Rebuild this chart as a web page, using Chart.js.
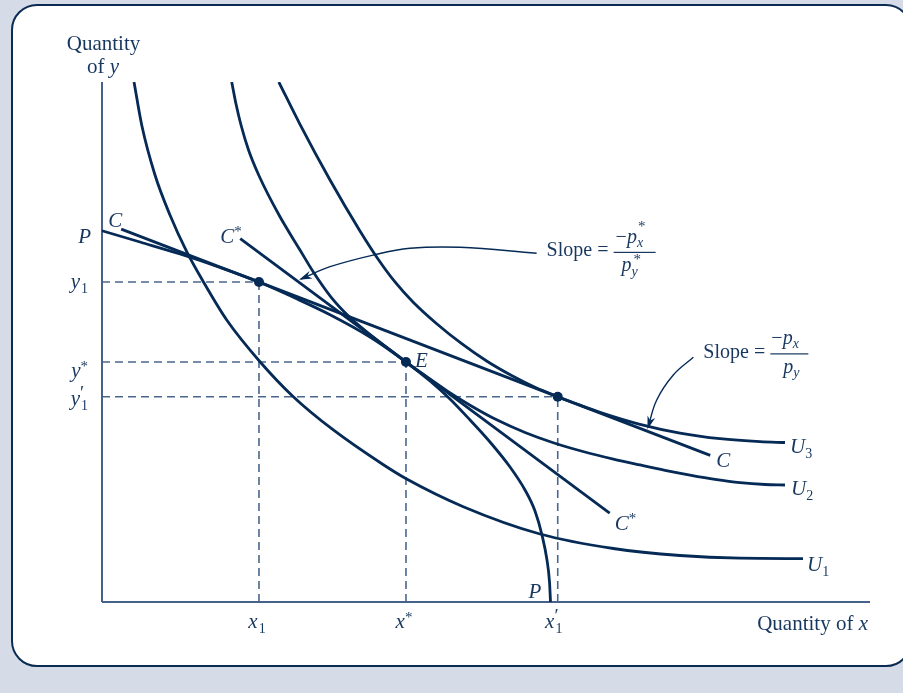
<!DOCTYPE html>
<html><head><meta charset="utf-8">
<script src="https://cdn.jsdelivr.net/npm/chart.js@4/dist/chart.umd.min.js"></script>
<style>
html,body{margin:0;padding:0;background:#d5dce8;width:903px;height:693px;overflow:hidden;}
#card{position:absolute;left:11px;top:4px;width:897px;height:659px;background:#fff;border:2px solid #0b2b52;border-radius:26px;}
#c{position:absolute;left:0;top:0;}
</style></head>
<body><div id="card"></div><canvas id="c" width="903" height="693"></canvas>
<script>
// ---- data (axis units: 0..100 on both axes) ----
const X_TICK_VALUES = [20.44, 39.58, 59.34];   // x1, x*, x1'
const Y_TICK_VALUES = [61.54, 46.15, 39.48];   // y1, y*, y1'
const P_INTERCEPT_Y = 71.4;

const DOT_X = [20.44, 39.58, 59.34];
const DOT_Y = [61.54, 46.15, 39.48];

const U1_X = [4.17, 5.17, 6.9, 8.85, 11.03, 13.19, 16.24, 20.57, 24.91, 30.12, 36.59, 39.67, 47.04, 57.03, 66.58, 75.26, 83.07, 91.28];
const U1_Y = [100, 91.73, 82.12, 74.42, 67.37, 61.6, 54.23, 46.21, 39.48, 33.08, 26.44, 23.65, 18.33, 13.08, 10.29, 8.94, 8.42, 8.35];

const U2_X = [16.89, 17.45, 18.1, 19.08, 20.4, 23.05, 25.78, 27.6, 29.82, 32.29, 34.51, 36.98, 39.58, 42.19, 44.88, 47.92, 51.39, 55.08, 58.76, 62.63, 66.58, 70.05, 73.31, 76.56, 79.82, 83.07, 86.33, 88.93];
const U2_Y = [100, 95.77, 91.73, 86.92, 82.12, 74.42, 67.69, 63.27, 58.65, 54.71, 51.92, 49.08, 46.15, 43.42, 40.65, 37.85, 35.04, 32.6, 30.63, 28.94, 27.48, 26.35, 25.33, 24.42, 23.6, 22.96, 22.6, 22.5];

const U3_X = [23.02, 25.78, 29.69, 33.59, 35.94, 38.15, 40.49, 43.62, 46.88, 50.13, 53.39, 56.38, 59.34, 62.24, 64.84, 70.05, 75.26, 80.47, 85.68, 88.93];
const U3_Y = [100, 91.85, 81.15, 71.35, 65.96, 61.54, 57.69, 53.46, 49.62, 46.29, 43.5, 41.29, 39.48, 37.85, 36.48, 34.17, 32.48, 31.4, 30.83, 30.67];

const PPF_X = [0, 4.95, 10.16, 15.36, 20.44, 25.13, 29.69, 34.9, 39.58, 42.71, 45.31, 47.92, 50.52, 53.13, 55.08, 56.38, 57.29, 57.94, 58.27, 58.4];
const PPF_Y = [71.4, 69.23, 66.92, 64.33, 61.54, 58.46, 55.25, 50.96, 46.15, 42.5, 39.04, 35.0, 30.77, 25.96, 21.54, 17.5, 12.88, 8.08, 3.85, 0];

const C_X = [2.5, 79.2];
const C_Y = [71.7, 28.2];
const CSTAR_X = [18.0, 66.1];
const CSTAR_Y = [69.9, 17.1];

const ARROW1_X = [56.59, 46.61, 40.1, 35.33, 29.69, 25.9];
const ARROW1_Y = [67.06, 68.21, 68.02, 66.73, 64.48, 62.1];
const ARROW2_X = [77.0, 74.39, 72.23, 71.1];
const ARROW2_Y = [47.06, 43.65, 38.85, 33.6];

// ---- styles ----
const NAVY = '#052a56';
const DASH = '#4a678c';
const AXIS = '#46618a';
const TEXT = '#17375f';
const SERIF = '"Liberation Serif", "Times New Roman", serif';

function pts(xs, ys) { return xs.map((x, i) => ({ x: x, y: ys[i] })); }

const datasets = [];
datasets.push({ data: pts(DOT_X, DOT_Y), showLine: false, pointRadius: 5, pointBackgroundColor: NAVY, pointBorderWidth: 0, order: 0 });
function curve(xs, ys, extra) {
  return Object.assign({ data: pts(xs, ys), showLine: true, borderColor: NAVY, borderWidth: 2.8, pointRadius: 0,
    cubicInterpolationMode: 'monotone', fill: false, order: 1 }, extra || {});
}
datasets.push(curve(U1_X, U1_Y));
datasets.push(curve(U2_X, U2_Y));
datasets.push(curve(U3_X, U3_Y));
datasets.push(curve(PPF_X, PPF_Y, { clip: false }));
datasets.push(curve(C_X, C_Y, { cubicInterpolationMode: 'default', tension: 0 }));
datasets.push(curve(CSTAR_X, CSTAR_Y, { cubicInterpolationMode: 'default', tension: 0 }));
const ARROW_START = datasets.length;
datasets.push(curve(ARROW1_X, ARROW1_Y, { borderWidth: 1.4, cubicInterpolationMode: 'default', tension: 0.4 }));
datasets.push(curve(ARROW2_X, ARROW2_Y, { borderWidth: 1.4, cubicInterpolationMode: 'default', tension: 0.4 }));
// axes
datasets.push(curve([0, 0], [0, 100], { borderColor: AXIS, borderWidth: 2, tension: 0, cubicInterpolationMode: 'default', clip: false, order: 2 }));
datasets.push(curve([0, 100], [0, 0], { borderColor: AXIS, borderWidth: 2, tension: 0, cubicInterpolationMode: 'default', clip: false, order: 2 }));
// dashed guides
for (let i = 0; i < X_TICK_VALUES.length; i++) {
  const dashStyle = { borderColor: DASH, borderWidth: 1.6, borderDash: [8, 5], tension: 0, cubicInterpolationMode: 'default', clip: false, order: 3 };
  datasets.push(curve([0, X_TICK_VALUES[i]], [Y_TICK_VALUES[i], Y_TICK_VALUES[i]], dashStyle));
  datasets.push(curve([X_TICK_VALUES[i], X_TICK_VALUES[i]], [0, Y_TICK_VALUES[i]], dashStyle));
}

function font(p) { return (p.it ? 'italic ' : '') + (p.sz || 20) + 'px ' + SERIF; }
function drawPieces(ctx, pieces, x, y, align) {
  let w = 0;
  for (const p of pieces) { ctx.font = font(p); p.w = ctx.measureText(p.t).width; if (!p.na) w += p.w + (p.dx || 0); }
  let cx = align === 'right' ? x - w : align === 'center' ? x - w / 2 : x;
  for (const p of pieces) {
    ctx.font = font(p);
    ctx.fillText(p.t, cx + (p.dx || 0), y + (p.dy || 0));
    if (!p.na) cx += p.w + (p.dx || 0);
  }
}

const labelPlugin = {
  id: 'labels',
  afterDatasetsDraw(chart) {
    const ctx = chart.ctx, xs = chart.scales.x, ys = chart.scales.y;
    const X = v => xs.getPixelForValue(v), Y = v => ys.getPixelForValue(v);
    // arrowheads
    for (let k = ARROW_START; k < ARROW_START + 2; k++) {
      const els = chart.getDatasetMeta(k).data;
      const end = els[els.length - 1];
      let dx = end.x - (end.cp1x !== undefined ? end.cp1x : els[els.length - 2].x);
      let dy = end.y - (end.cp1y !== undefined ? end.cp1y : els[els.length - 2].y);
      const len = Math.hypot(dx, dy) || 1; dx /= len; dy /= len;
      const L = 11, W = 4;
      ctx.save(); ctx.fillStyle = NAVY; ctx.beginPath();
      ctx.moveTo(end.x + dx * 2, end.y + dy * 2);
      ctx.lineTo(end.x - dx * L - dy * W, end.y - dy * L + dx * W);
      ctx.lineTo(end.x - dx * (L - 4), end.y - dy * (L - 4));
      ctx.lineTo(end.x - dx * L + dy * W, end.y - dy * L - dx * W);
      ctx.closePath(); ctx.fill(); ctx.restore();
    }
    ctx.save();
    ctx.fillStyle = TEXT; ctx.textBaseline = 'alphabetic';
    const bottom = Y(0), left = X(0);
    // axis titles
    drawPieces(ctx, [{ t: 'Quantity', sz: 21 }], left + 1.5, 49.5, 'center');
    drawPieces(ctx, [{ t: 'of ', sz: 21 }, { t: 'y', it: 1, sz: 21 }], left + 1, 72.5, 'center');
    drawPieces(ctx, [{ t: 'Quantity of ', sz: 21 }, { t: 'x', it: 1, sz: 21 }], X(100) - 2, bottom + 28, 'right');
    // x tick labels
    drawPieces(ctx, [{ t: 'x', it: 1, sz: 21 }, { t: '1', sz: 14, dy: 5, dx: 1 }], X(X_TICK_VALUES[0]) - 2, bottom + 26, 'center');
    drawPieces(ctx, [{ t: 'x', it: 1, sz: 21 }, { t: '*', sz: 15, dy: -6 }], X(X_TICK_VALUES[1]) - 2, bottom + 26, 'center');
    drawPieces(ctx, [{ t: 'x', it: 1, sz: 21 }, { t: '\u2032', sz: 19, dy: -6, na: 1, dx: 0 }, { t: '1', sz: 14, dy: 5, dx: 1 }], X(X_TICK_VALUES[2]) - 4, bottom + 26, 'center');
    // y tick labels
    drawPieces(ctx, [{ t: 'P', it: 1, sz: 21 }], left - 11, Y(P_INTERCEPT_Y) + 12, 'right');
    drawPieces(ctx, [{ t: 'y', it: 1, sz: 21 }, { t: '1', sz: 14, dy: 5, dx: 1 }], left - 14, Y(Y_TICK_VALUES[0]) + 6, 'right');
    drawPieces(ctx, [{ t: 'y', it: 1, sz: 21 }, { t: '*', sz: 15, dy: -6 }], left - 14, Y(Y_TICK_VALUES[1]) + 15, 'right');
    drawPieces(ctx, [{ t: 'y', it: 1, sz: 21 }, { t: '\u2032', sz: 19, dy: -6, na: 1, dx: 0 }, { t: '1', sz: 14, dy: 5, dx: 1 }], left - 14, Y(Y_TICK_VALUES[2]) + 8, 'right');
    // curve labels
    drawPieces(ctx, [{ t: 'C', it: 1, sz: 21 }], X(C_X[0]) - 13, Y(C_Y[0]) - 2, 'left');
    drawPieces(ctx, [{ t: 'C', it: 1, sz: 21 }, { t: '*', sz: 15, dy: -7 }], X(CSTAR_X[0]) - 20, Y(CSTAR_Y[0]) + 4, 'left');
    drawPieces(ctx, [{ t: 'C', it: 1, sz: 21 }], X(C_X[1]) + 6, Y(C_Y[1]) + 12, 'left');
    drawPieces(ctx, [{ t: 'C', it: 1, sz: 21 }, { t: '*', sz: 15, dy: -7 }], X(CSTAR_X[1]) + 5, Y(CSTAR_Y[1]) + 17, 'left');
    drawPieces(ctx, [{ t: 'E', it: 1, sz: 21 }], X(DOT_X[1]) + 9, Y(DOT_Y[1]) + 5, 'left');
    drawPieces(ctx, [{ t: 'P', it: 1, sz: 21 }], X(PPF_X[PPF_X.length - 1]) - 22, bottom - 4, 'left');
    drawPieces(ctx, [{ t: 'U', it: 1, sz: 21 }, { t: '3', sz: 14, dy: 5 }], X(U3_X[U3_X.length - 1]) + 5, Y(U3_Y[U3_Y.length - 1]) + 10, 'left');
    drawPieces(ctx, [{ t: 'U', it: 1, sz: 21 }, { t: '2', sz: 14, dy: 5 }], X(U2_X[U2_X.length - 1]) + 6, Y(U2_Y[U2_Y.length - 1]) + 10, 'left');
    drawPieces(ctx, [{ t: 'U', it: 1, sz: 21 }, { t: '1', sz: 14, dy: 5 }], X(U1_X[U1_X.length - 1]) + 4, Y(U1_Y[U1_Y.length - 1]) + 12, 'left');
    // slope annotation 1
    const a1x = X(ARROW1_X[0]) + 10, a1y = Y(ARROW1_Y[0]);
    drawPieces(ctx, [{ t: 'Slope =', sz: 20 }], a1x, a1y + 3, 'left');
    ctx.fillRect(a1x + 67, a1y - 1.5, 42, 1.2);
    drawPieces(ctx, [{ t: '\u2212', sz: 20 }, { t: 'p', it: 1, sz: 20 }, { t: '*', sz: 15, dy: -12, na: 1, dx: 1 }, { t: 'x', it: 1, sz: 14, dy: 4 }], a1x + 69, a1y - 10, 'left');
    drawPieces(ctx, [{ t: 'p', it: 1, sz: 20 }, { t: '*', sz: 15, dy: -7, na: 1, dx: 2 }, { t: 'y', it: 1, sz: 14, dy: 5 }], a1x + 75, a1y + 18, 'left');
    // slope annotation 2
    const a2x = X(ARROW2_X[0]) + 10, a2y = Y(ARROW2_Y[0]);
    drawPieces(ctx, [{ t: 'Slope =', sz: 20 }], a2x, a2y + 1, 'left');
    ctx.fillRect(a2x + 67, a2y - 4, 38, 1.2);
    drawPieces(ctx, [{ t: '\u2212', sz: 20 }, { t: 'p', it: 1, sz: 20 }, { t: 'x', it: 1, sz: 14, dy: 4 }], a2x + 68, a2y - 13, 'left');
    drawPieces(ctx, [{ t: 'p', it: 1, sz: 20 }, { t: 'y', it: 1, sz: 14, dy: 4 }], a2x + 80, a2y + 16, 'left');
    ctx.restore();
  }
};

new Chart(document.getElementById('c'), {
  type: 'scatter',
  data: { datasets: datasets },
  options: {
    responsive: false, animation: false, events: [],
    layout: { padding: { left: 102, right: 33, top: 82, bottom: 91 } },
    scales: {
      x: { type: 'linear', min: 0, max: 100, display: false },
      y: { type: 'linear', min: 0, max: 100, display: false }
    },
    plugins: { legend: { display: false }, tooltip: { enabled: false } }
  },
  plugins: [labelPlugin]
});
</script></body></html>
